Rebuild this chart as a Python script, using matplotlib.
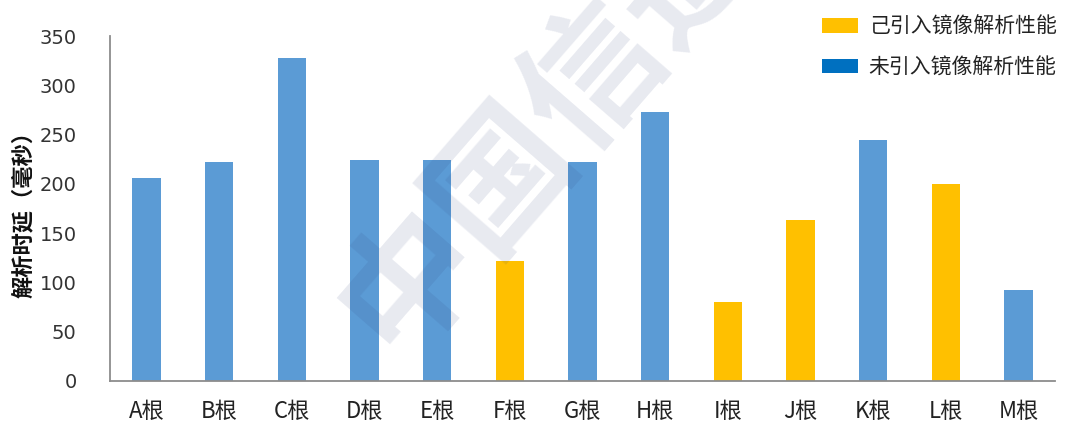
import matplotlib
matplotlib.use('Agg')
import matplotlib.pyplot as plt
from matplotlib.patches import Patch

plt.rcParams['font.family'] = ['Noto Sans CJK SC', 'DejaVu Sans']

roots = ['A根', 'B根', 'C根', 'D根', 'E根', 'F根', 'G根', 'H根', 'I根', 'J根', 'K根', 'L根', 'M根']
latency = [206, 222, 328, 224, 224, 122, 222, 273, 80, 163, 245, 200, 92]
# True where the root already has mirror resolution
mirrored = [False, False, False, False, False, True, False, False, True, True, False, True, False]
legend_names = ['己引入镜像解析性能', '未引入镜像解析性能']

YELLOW = '#FFC000'
BLUE = '#5B9BD5'
BLUE_LEG = '#0070C0'

fig = plt.figure(figsize=(10.7, 4.3), dpi=100)
ax = fig.add_axes([0.1028, 0.114, 0.883, 0.802])

colors = [YELLOW if m else BLUE for m in mirrored]
ax.bar(range(len(roots)), latency, width=0.39, color=colors, zorder=2)

ax.set_xlim(-0.5, len(roots) - 0.5)
ax.set_ylim(0, 350)
ax.set_yticks(range(0, 351, 50))
ax.set_xticks(range(len(roots)))
ax.set_xticklabels(roots, fontsize=16, color='#222222')
ax.tick_params(axis='y', length=0, pad=24, labelsize=14, labelcolor='#333333')
ax.tick_params(axis='x', length=0, pad=14)
for lab in ax.get_yticklabels():
    lab.set_fontfamily('DejaVu Sans')

for s in ['top', 'right']:
    ax.spines[s].set_visible(False)
for s in ['left', 'bottom']:
    ax.spines[s].set_color('#8c8c8c')
    ax.spines[s].set_linewidth(1.3)

ax.set_ylabel('解析时延（毫秒）', fontsize=16, fontweight='bold', color='#111111')
ax.yaxis.set_label_coords(-0.080, 0.5)

handles = [Patch(facecolor=YELLOW), Patch(facecolor=BLUE_LEG)]
fig.legend(handles, legend_names, loc='upper left', bbox_to_anchor=(0.768, 0.964),
           frameon=False, fontsize=15, handlelength=1.75, handleheight=0.72,
           labelspacing=0.9, handletextpad=0.5, borderpad=0, borderaxespad=0,
           labelcolor='#222222')

# faint diagonal watermark laid over the bars
fig.text(0.555, 0.835, '中国信通院', fontsize=100, fontweight='bold', color='#2c3e7a',
         alpha=0.11, rotation=49, rotation_mode='anchor', ha='center', va='center', zorder=10)

fig.savefig('out.png', dpi=100)
